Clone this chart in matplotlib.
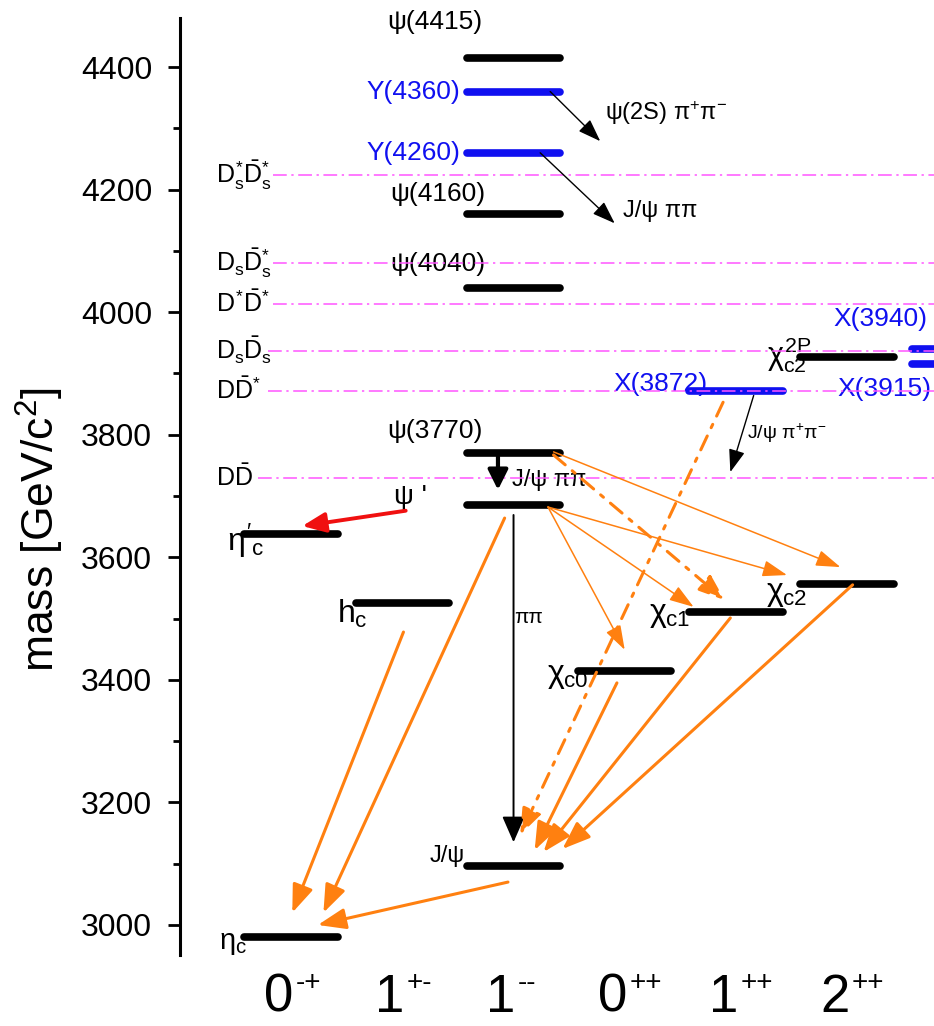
import matplotlib.pyplot as plt

plt.rcParams['font.family'] = ['Liberation Sans', 'DejaVu Sans']
plt.rcParams['mathtext.fontset'] = 'custom'
plt.rcParams['mathtext.rm'] = 'Liberation Sans'
plt.rcParams['mathtext.it'] = 'Liberation Sans'
plt.rcParams['mathtext.bf'] = 'Liberation Sans:bold'
plt.rcParams['mathtext.sf'] = 'Liberation Sans'

# J^PC columns along the bottom: spin digit and PC signs
jpc_spin = ['0', '1', '1', '0', '1', '2']
jpc_pc = ['-+', '+-', '--', '++', '++', '++']

# charmonium(-like) levels: column index and mass in MeV
state_names = ['eta_c', 'eta_c(2S)', 'h_c', 'J/psi', 'psi(2S)', 'psi(3770)',
               'psi(4040)', 'psi(4160)', 'psi(4415)', 'Y(4260)', 'Y(4360)',
               'chi_c0', 'chi_c1', 'chi_c2', 'X(3872)', 'chi_c2(2P)',
               'X(3915)', 'X(3940)']
state_cols = [0, 0, 1, 2, 2, 2, 2, 2, 2, 2, 2, 3, 4, 5, 4, 5, 6, 6]
state_mass = [2981, 3638, 3525, 3097, 3686, 3770, 4040, 4160, 4415, 4260, 4360,
              3415, 3511, 3556, 3872, 3927, 3915, 3940]
exotic = ['Y(4260)', 'Y(4360)', 'X(3872)', 'X(3915)', 'X(3940)']

# open-charm thresholds (MeV)
thr_labels = [r'$D\bar{D}$', r'$D\bar{D}^{*}$', r'$D_s\bar{D}_s$',
              r'$D^{*}\bar{D}^{*}$', r'$D_s\bar{D}_s^{*}$', r'$D_s^{*}\bar{D}_s^{*}$']
thr_mass = [3730, 3872, 3937, 4014, 4080, 4224]

# transitions (x0, m0, x1, m1) in column units / MeV
hadronic_thin = [(2.33, 4360, 2.78, 4279),   # Y(4360) -> psi(2S) pi pi
                 (2.24, 4260, 2.91, 4145),   # Y(4260) -> J/psi pi pi
                 (4.16, 3864, 3.95, 3739)]   # X(3872) -> J/psi pi pi
psi3770_to_psi2s = (1.86, 3764, 1.86, 3710)
psi2s_to_jpsi = (2.00, 3669, 2.00, 3135)
m1_psi2s = (1.03, 3676, 0.10, 3651)
e1_thin = [(2.31, 3682, 3.00, 3449),
           (2.31, 3682, 3.62, 3519),
           (2.31, 3682, 4.46, 3571),
           (2.36, 3772, 4.94, 3584)]
e1_dashed = [(2.36, 3767, 3.90, 3530),
             (3.885, 3853, 2.06, 3147)]
rad_thick = [(2.93, 3395, 2.19, 3122),
             (3.95, 3501, 2.27, 3119),
             (5.05, 3555, 2.44, 3124),
             (1.01, 3478, 0.01, 3020),
             (1.92, 3664, 0.29, 3020),
             (1.95, 3070, 0.24, 3000)]

BLUE = '#1010f0'
ORANGE = '#ff8010'
MAGENTA = '#ff55ff'

fig = plt.figure(figsize=(9.34, 10.26), dpi=100)
ax = fig.add_axes([180 / 934, 71 / 1026, 1 - 180 / 934, 937 / 1026])
ax.set_xlim(-1.0, 5.782)
ax.set_ylim(2951, 4480)

for name, col, m in zip(state_names, state_cols, state_mass):
    c = BLUE if name in exotic else 'black'
    ax.plot([col - 0.42, col + 0.42], [m, m], color=c, lw=5.5,
            solid_capstyle='round', zorder=3)

thr_x0 = [-0.30, -0.21, -0.21, -0.16, -0.16, -0.16]
for lab, m, x0 in zip(thr_labels, thr_mass, thr_x0):
    ax.plot([x0, 6.5], [m, m], color=MAGENTA, lw=1.1,
            dashes=(9, 3, 1.5, 3), zorder=4)
    ax.text(-0.68, m, lab, fontsize=18, ha='left', va='center')


def arrow(seg, color, lw, hl, hw, ls='-', z=5):
    x0, m0, x1, m1 = seg
    ax.annotate('', xy=(x1, m1), xytext=(x0, m0),
                arrowprops=dict(arrowstyle=f'-|>,head_length={hl},head_width={hw}',
                                color=color, lw=lw, linestyle=ls,
                                shrinkA=0, shrinkB=0, mutation_scale=20),
                zorder=z)


for seg in hadronic_thin:
    arrow(seg, 'black', 1.0, 0.7, 0.25)
arrow(psi3770_to_psi2s, 'black', 3.0, 0.6, 0.3)
arrow(psi2s_to_jpsi, 'black', 1.4, 0.8, 0.35)
arrow(m1_psi2s, '#f01010', 2.8, 0.7, 0.3)
for seg in e1_thin:
    arrow(seg, ORANGE, 1.1, 0.75, 0.25)
for seg in e1_dashed:
    arrow(seg, ORANGE, 2.2, 0.8, 0.3, ls=(0, (5, 3, 1.2, 3)))
for seg in rad_thick:
    arrow(seg, ORANGE, 2.2, 0.85, 0.32)

# level names
ax.text(1.29, 4473, 'ψ(4415)', fontsize=19, ha='center', va='center')
ax.text(1.52, 4359, 'Y(4360)', fontsize=19, ha='right', va='center', color=BLUE)
ax.text(1.52, 4260, 'Y(4260)', fontsize=19, ha='right', va='center', color=BLUE)
ax.text(1.32, 4192, 'ψ(4160)', fontsize=19, ha='center', va='center')
ax.text(1.32, 4078, 'ψ(4040)', fontsize=19, ha='center', va='center')
ax.text(1.29, 3806, 'ψ(3770)', fontsize=19, ha='center', va='center')
ax.text(1.07, 3698, "ψ '", fontsize=20, ha='center', va='center')
ax.text(1.565, 3112, 'J/ψ', fontsize=17, ha='right', va='center')
ax.text(-0.40, 2970, r'$η_c$', fontsize=21, ha='right', va='center')
ax.text(-0.58, 3626, r"$η'_c$", fontsize=23, ha='left', va='center')
ax.text(0.41, 3508, r'$h_c$', fontsize=23, ha='left', va='center')
ax.text(2.30, 3406, r'$χ_{c0}$', fontsize=23, ha='left', va='center')
ax.text(3.22, 3505, r'$χ_{c1}$', fontsize=23, ha='left', va='center')
ax.text(4.27, 3540, r'$χ_{c2}$', fontsize=23, ha='left', va='center')
ax.text(4.28, 3930, r'$χ_{c2}^{2P}$', fontsize=22, ha='left', va='center')
ax.text(2.896, 3883, 'X(3872)', fontsize=19, ha='left', va='center', color=BLUE)
ax.text(4.874, 3989, 'X(3940)', fontsize=19, ha='left', va='center', color=BLUE)
ax.text(4.91, 3875, 'X(3915)', fontsize=19, ha='left', va='center', color=BLUE)

# decay products
ax.text(2.824, 4325, r'ψ(2S) π$^{+}$π$^{-}$', fontsize=17, ha='left', va='center')
ax.text(2.986, 4165, 'J/ψ ππ', fontsize=17, ha='left', va='center')
ax.text(1.987, 3726, 'J/ψ ππ', fontsize=17, ha='left', va='center')
ax.text(4.10, 3803, r'J/ψ π$^{+}$π$^{-}$', fontsize=14, ha='left', va='center')
ax.text(2.01, 3502, 'ππ', fontsize=15, ha='left', va='center')

# J^PC labels under the columns
for i, (spin, pc) in enumerate(zip(jpc_spin, jpc_pc)):
    ax.text(i + 0.02, 2881, spin, fontsize=38, ha='right', va='center',
            clip_on=False)
    ax.text(i + 0.04, 2905, pc, fontsize=20, ha='left', va='center',
            clip_on=False)

for side in ['top', 'right', 'bottom']:
    ax.spines[side].set_visible(False)
ax.spines['left'].set_linewidth(2.2)
ax.set_xticks([])
ax.set_yticks(range(3000, 4401, 200))
ax.set_yticks(range(3100, 4400, 200), minor=True)
ax.tick_params(axis='y', which='major', length=9, width=2, pad=11, labelsize=23)
ax.tick_params(axis='y', which='minor', length=5, width=2)
fig.text(40 / 934, 1 - 530 / 1026, 'mass [GeV/c$^{2}$]', fontsize=32,
         rotation=90, ha='center', va='center')

fig.savefig('out.png', dpi=100)
